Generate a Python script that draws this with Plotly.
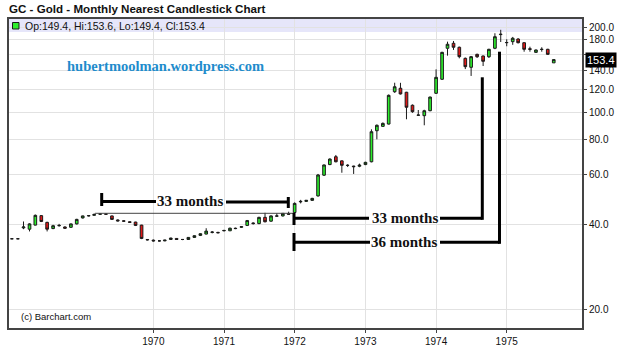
import math
import pandas as pd
import plotly.graph_objects as go

# ---------------- data (monthly, Jan 1968 .. Sep 1975) ----------------
opens = [35.7, 35.7, 39.0, 38.6, 39.9, 43.1, 40.8, 38.8, 39.7, 39.3, 39.2, 40.3,
         42.3, 43.0, 43.2, 43.6, 43.7, 43.0, 41.6, 41.3, 41.0, 40.9, 39.9, 35.5,
         35.3, 35.1, 35.1, 35.5, 35.8, 35.5, 35.5, 36.1, 36.7, 37.1, 37.6, 37.6,
         38.1, 38.1, 38.9, 39.2, 39.8, 40.6, 40.4, 42.5, 41.2, 42.9, 43.0, 43.8,
         44.2, 48.2, 48.4, 48.8, 50.6, 59.9, 65.3, 69.6, 67.3, 64.8, 64.5, 64.4,
         65.3, 66.8, 86.0, 89.1, 90.8, 118.1, 121.5, 117.6, 105.8, 97.5, 97.2, 101.2,
         116.6, 130.7, 168.2, 175.2, 169.6, 155.0, 144.1, 160.1, 158.0, 157.0, 168.2, 188.0,
         176.0, 177.5, 181.4, 176.0, 167.5, 162.7, 166.5, 166.8, 149.4]
highs = [35.8, 35.8, 41.1, 40.5, 43.5, 43.3, 41.0, 40.0, 40.3, 39.5, 40.4, 42.0,
         43.1, 43.3, 43.9, 43.9, 43.8, 43.1, 41.8, 41.5, 41.1, 41.0, 40.0, 35.6,
         35.5, 35.3, 35.4, 36.0, 35.9, 35.6, 36.2, 36.7, 37.3, 38.9, 38.0, 37.8,
         38.4, 39.1, 39.1, 39.6, 41.6, 40.8, 42.7, 44.1, 43.2, 43.9, 44.0, 44.5,
         48.0, 49.0, 48.9, 49.8, 60.5, 65.3, 68.7, 70.6, 67.5, 65.5, 64.7, 65.8,
         66.8, 87.0, 90.5, 92.0, 115.5, 127.1, 127.0, 118.0, 106.5, 101.8, 102.0, 113.5,
         141.7, 163.5, 177.5, 178.5, 170.5, 156.0, 158.0, 161.0, 158.5, 167.5, 190.1, 195.5,
         181.0, 184.5, 182.5, 176.5, 170.4, 166.5, 169.6, 167.5, 153.6]
lows = [35.6, 35.6, 38.6, 37.9, 39.8, 40.9, 37.9, 38.6, 39.4, 38.7, 39.0, 40.1,
        42.1, 42.8, 43.1, 43.4, 43.5, 41.6, 41.1, 41.0, 40.6, 39.6, 35.6, 35.2,
        34.9, 34.9, 35.0, 35.4, 35.4, 35.3, 35.4, 36.0, 36.5, 37.0, 37.3, 37.3,
        37.9, 38.0, 38.6, 39.0, 39.6, 40.1, 40.2, 40.8, 41.0, 42.7, 42.8, 43.4,
        43.9, 47.6, 48.2, 48.6, 50.3, 59.5, 65.0, 66.5, 61.1, 64.0, 60.5, 63.9,
        65.0, 66.5, 80.2, 88.8, 90.5, 117.0, 115.5, 94.4, 99.5, 97.2, 89.9, 100.8,
        116.0, 130.0, 158.4, 166.0, 155.0, 142.0, 134.3, 155.5, 145.6, 155.5, 167.0, 177.0,
        171.0, 173.0, 175.0, 163.6, 163.6, 162.0, 163.6, 159.5, 149.4]
closes = [35.7, 35.7, 39.3, 40.3, 43.2, 41.1, 38.6, 39.7, 39.8, 38.9, 40.3, 41.8,
          43.0, 43.1, 43.5, 43.7, 43.6, 41.8, 41.3, 41.2, 40.8, 39.8, 35.8, 35.4,
          35.1, 35.1, 35.3, 35.9, 35.5, 35.5, 36.1, 36.6, 37.2, 38.0, 37.7, 37.5,
          38.2, 38.9, 38.8, 39.4, 41.4, 40.4, 42.5, 41.0, 43.0, 43.0, 43.9, 43.6,
          47.6, 48.4, 48.8, 49.6, 60.0, 65.1, 68.3, 66.8, 64.9, 64.9, 64.2, 65.0,
          66.5, 85.3, 89.9, 91.3, 114.7, 123.0, 116.0, 104.1, 100.4, 97.7, 101.2, 113.1,
          132.8, 162.7, 173.8, 169.6, 157.1, 144.8, 157.1, 157.0, 151.3, 166.8, 184.8, 188.5,
          176.3, 182.5, 176.0, 166.8, 166.8, 165.9, 166.8, 160.1, 153.4]
months = pd.date_range("1968-01-01", periods=len(opens), freq="MS")

year_ticks = ["1970-01-01", "1971-01-01", "1972-01-01", "1973-01-01", "1974-01-01", "1975-01-01"]
year_labels = ["1970", "1971", "1972", "1973", "1974", "1975"]
price_ticks = [20, 40, 60, 80, 100, 120, 140, 160, 180, 200]
price_labels = ["20.0", "40.0", "60.0", "80.0", "100.0", "120.0", "140.0", "", "180.0", "200.0"]

title_text = "GC - Gold - Monthly Nearest Candlestick Chart"
watermark = "hubertmoolman.wordpress.com"
copyright_text = "(c) Barchart.com"

# ---------------- geometry (page pixels; body margin removed via post_script) ----------------
W, H = 620, 364
PLOT_L, PLOT_R, PLOT_T, PLOT_B = 9, 582, 19, 328
ML, MT, MR, MB = PLOT_L, PLOT_T, W - PLOT_R, H - PLOT_B
PW, PH = PLOT_R - PLOT_L, PLOT_B - PLOT_T


def px(x):
    return (x - PLOT_L) / PW


def py(y):
    return (PLOT_B - y) / PH


fig = go.Figure()
fig.add_trace(go.Candlestick(
    x=months, open=opens, high=highs, low=lows, close=closes,
    increasing=dict(line=dict(color="#1a1a1a", width=1), fillcolor="#2cee2c"),
    decreasing=dict(line=dict(color="#1a1a1a", width=1), fillcolor="#e01818"),
    whiskerwidth=0, hoverinfo="skip", showlegend=False,
))

shapes = []
shapes.append(dict(type="rect", xref="paper", yref="paper", x0=0, x1=1, y0=py(32), y1=1,
                   fillcolor="#e6e6fa", line=dict(width=0), layer="below"))
shapes.append(dict(type="rect", xref="paper", yref="paper", x0=px(12.5), x1=px(19), y0=py(29), y1=py(22.5),
                   fillcolor="#2cee2c", line=dict(color="#1a1a1a", width=1)))


def seg(x0, y0, x1, y1, w=3, c="black"):
    shapes.append(dict(type="line", xref="paper", yref="paper",
                       x0=px(x0), y0=py(y0), x1=px(x1), y1=py(y1),
                       line=dict(color=c, width=w)))


seg(95, 213.3, 294, 213.3, w=1, c="#444444")
seg(101.7, 193, 101.7, 206)
seg(101.7, 201.5, 156, 201.5)
seg(226, 202, 288.3, 202)
seg(288.3, 197, 288.3, 208)
seg(294, 213, 294, 225)
seg(294, 218.3, 369, 218.3)
seg(440, 218.3, 482.3, 218.3)
seg(482.3, 219.8, 482.3, 77.3)
seg(294, 233, 294, 251)
seg(294, 242.3, 370, 242.3)
seg(440, 242.3, 499.5, 242.3)
seg(499.5, 243.8, 499.5, 51.7)

annotations = [
    dict(text=f"<b>{title_text}</b>", xref="paper", yref="paper", x=px(7), y=py(8),
         xanchor="left", yanchor="middle", showarrow=False,
         font=dict(family="Liberation Sans", size=11.6, color="#111")),
    dict(text=f"Op:{opens[-1]}, Hi:{highs[-1]}, Lo:{lows[-1]}, Cl:{closes[-1]}",
         xref="paper", yref="paper", x=px(23), y=py(25.5),
         xanchor="left", yanchor="middle", showarrow=False,
         font=dict(family="Liberation Sans", size=10.5, color="#111")),
    dict(text=f"<b>{watermark}</b>", xref="paper", yref="paper", x=px(165), y=py(66),
         xanchor="center", yanchor="middle", showarrow=False,
         font=dict(family="Liberation Serif", size=14.5, color="#1e8ccc")),
    dict(text=copyright_text, xref="paper", yref="paper", x=px(19), y=py(316),
         xanchor="left", yanchor="middle", showarrow=False,
         font=dict(family="Liberation Sans", size=9.5, color="#111")),
    dict(text="<b>33 months</b>", xref="paper", yref="paper", x=px(190.5), y=py(201),
         xanchor="center", yanchor="middle", showarrow=False,
         font=dict(family="Liberation Serif", size=15, color="#111")),
    dict(text="<b>33 months</b>", xref="paper", yref="paper", x=px(405), y=py(218),
         xanchor="center", yanchor="middle", showarrow=False,
         font=dict(family="Liberation Serif", size=15, color="#111")),
    dict(text="<b>36 months</b>", xref="paper", yref="paper", x=px(404), y=py(242),
         xanchor="center", yanchor="middle", showarrow=False,
         font=dict(family="Liberation Serif", size=15, color="#111")),
    dict(text=f"{closes[-1]}", xref="paper", yref="y", x=px(585), y=math.log10(closes[-1]),
         xanchor="left", yanchor="middle", showarrow=False, bgcolor="black", borderpad=1,
         font=dict(family="Liberation Sans", size=11, color="white")),
]

fig.update_layout(
    width=W, height=H, margin=dict(l=ML, r=MR, t=MT, b=MB, autoexpand=False),
    paper_bgcolor="white", plot_bgcolor="white", showlegend=False,
    font=dict(family="Liberation Sans", size=10, color="#111"),
    shapes=shapes, annotations=annotations,
    xaxis=dict(type="date", range=["1967-12-17", "1976-01-25"],
               tickvals=year_ticks, ticktext=year_labels,
               showgrid=True, gridcolor="#e2e2e2", gridwidth=1,
               showline=True, linecolor="#444", linewidth=2, mirror=True,
               ticks="outside", ticklen=3, tickcolor="#444",
               rangeslider=dict(visible=False), zeroline=False,
               tickfont=dict(size=10, color="#111")),
    yaxis=dict(type="log", range=[1.2374, 2.3293], side="right",
               tickvals=price_ticks, ticktext=price_labels,
               showgrid=True, gridcolor="#e2e2e2", gridwidth=1,
               showline=True, linecolor="#444", linewidth=2, mirror=True,
               ticks="outside", ticklen=3, tickcolor="#444", zeroline=False,
               tickfont=dict(size=10, color="#111")),
)

fig.write_html("out.html", config={"displayModeBar": False, "staticPlot": True},
               post_script="document.body.style.margin='0px';document.body.style.overflow='hidden';")
